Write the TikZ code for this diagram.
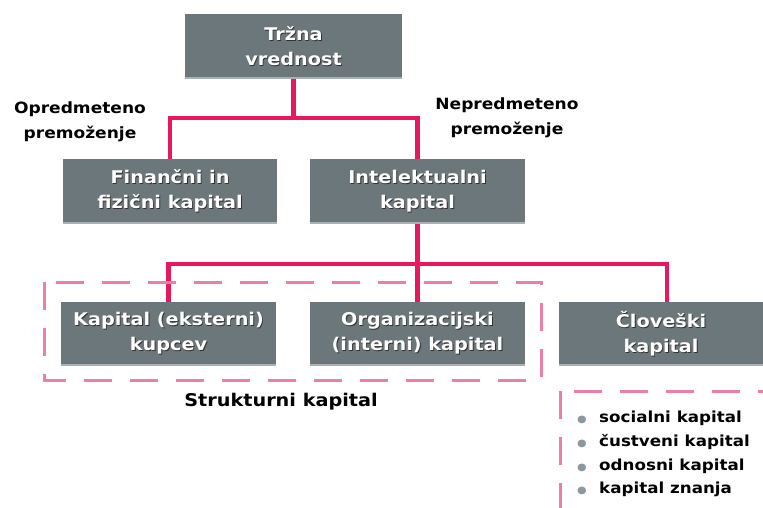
\documentclass[tikz,border=0pt]{standalone}
\usepackage{fontspec}
\setmainfont{DejaVu Sans}[FakeStretch=1.1]
\definecolor{boxgray}{HTML}{6C777B}
\definecolor{boxedge}{HTML}{A9B1B4}
\definecolor{linkpink}{HTML}{E8185C}
\definecolor{dashpink}{HTML}{EC7FA5}
\definecolor{bulgray}{HTML}{8C989D}
% white box text with a small dark drop shadow
\newcommand\sh[1]{\makebox[0pt][l]{\kern0.9pt\raisebox{-0.9pt}{\color{black!80}#1}}#1}
\newcommand\bul{\makebox[22pt][l]{\textcolor{bulgray}{\fontsize{10}{10}\selectfont ●}}}
\tikzset{
  gbox/.style={fill=boxgray, text=white, inner sep=0pt, minimum height=65pt,
    align=center, font=\fontsize{17.5}{25}\selectfont\bfseries,
    path picture={\fill[boxedge] (path picture bounding box.south west)
      rectangle ([yshift=2pt]path picture bounding box.south east);}},
  link/.style={draw=linkpink, line width=4.5pt, line join=miter},
  dashbox/.style={draw=dashpink, line width=3pt, dash pattern=on 28pt off 18pt},
  lbl/.style={align=center, inner sep=0pt, font=\fontsize{15.5}{25}\selectfont\bfseries},
}
\begin{document}
\begin{tikzpicture}[x=1pt,y=-1pt]
\useasboundingbox (0,0) rectangle (763,507);

% boxes
\node[gbox, minimum width=217pt] (top) at (293.5,46.5) {\sh{Tržna}\\\sh{vrednost}};
\node[gbox, minimum width=214pt] (fin) at (170,191.5) {\sh{Finančni in}\\\sh{fizični kapital}};
\node[gbox, minimum width=215pt] (int) at (417.5,191.5) {\sh{Intelektualni}\\\sh{kapital}};
\node[gbox, minimum width=215pt, minimum height=64pt] (kup) at (168.5,334) {\sh{Kapital (eksterni)}\\\sh{kupcev}};
\node[gbox, minimum width=215pt, minimum height=64pt] (org) at (417.5,334) {\sh{Organizacijski}\\\sh{(interni) kapital}};
\node[gbox, minimum width=204pt, minimum height=64pt] (clov) at (661,334) {\sh{Človeški}\\\sh{kapital}};

% side labels
\node[lbl] (opr) at (80,122) {Opredmeteno\\premoženje};
\node[lbl] (nep) at (507,118) {Nepredmeteno\\premoženje};

% connectors
\coordinate (j1) at (293.5,118);
\coordinate (j2) at (417.5,264);
\coordinate (cn) at ([xshift=6pt]clov.north);
\draw[link] (top.south) -- (j1);
\draw[link] (fin.north) |- (j1) -| (int.north);
\draw[link] (int.south) -- (j2);
\draw[link] (kup.north) |- (j2) -- (cn |- j2) -- (cn);
\draw[link] (j2) -- (org.north);

% structural capital frame
\draw[dashbox] (44,282) rectangle (541,380);
\node[font=\fontsize{17.5}{20}\selectfont\bfseries] (str) at (281,402) {Strukturni kapital};

% human capital components
\draw[dashbox] (560,391) rectangle (800,540);
\node[anchor=north west, align=left, inner sep=0pt,
  font=\fontsize{15.2}{23.7}\selectfont\bfseries] (lst) at (577,411)
  {\bul socialni kapital\\\bul čustveni kapital\\\bul odnosni kapital\\\bul kapital znanja};
\end{tikzpicture}
\end{document}
